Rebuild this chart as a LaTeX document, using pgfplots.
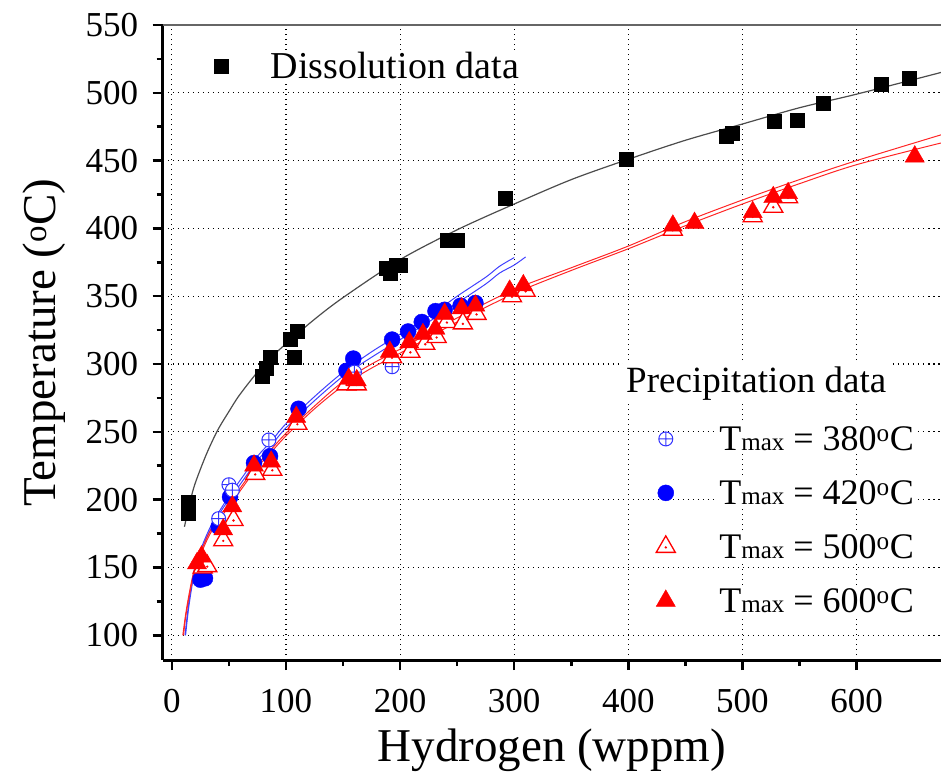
\documentclass[border=0pt]{standalone}
\usepackage{fontspec}
\setmainfont{Liberation Serif}
\usepackage{pgfplots}
\pgfplotsset{compat=1.18}

% hollow triangle with a small dot in the middle (Origin style)
\pgfdeclareplotmark{tridot}{%
  \pgfpathmoveto{\pgfqpoint{0pt}{\pgfplotmarksize}}%
  \pgfpathlineto{\pgfqpointpolar{-30}{\pgfplotmarksize}}%
  \pgfpathlineto{\pgfqpointpolar{210}{\pgfplotmarksize}}%
  \pgfpathclose
  \pgfusepathqfillstroke
  \pgfpathcircle{\pgfqpoint{0pt}{-0.05\pgfplotmarksize}}{0.4pt}%
  \pgfusepathqstroke
}

\newcommand{\tmax}[1]{T{\fontsize{25}{25}\selectfont max} = #1\textsuperscript{o}C}

\begin{document}
\begin{tikzpicture}
\begin{axis}[
  name=ax,
  scale only axis,
  width=778pt, height=635pt,
  xmin=-8, xmax=674, ymin=81.6, ymax=550,
  axis lines*=left,
  axis line style={-, line width=3pt},
  xtick={0,100,...,600}, ytick={100,150,...,550},
  minor x tick num=1, minor y tick num=1,
  tick align=outside,
  major tick length=10pt, minor tick length=6pt,
  tick style={black, line width=2.5pt},
  grid=major,
  major grid style={black, line width=1.2pt, dash pattern=on 1.5pt off 3.5pt},
  /pgf/number format/assume math mode=true,
  tick label style={font=\fontsize{35}{35}\selectfont},
  yticklabel style={xshift=-11pt},
  xticklabel style={yshift=-15pt},
  label style={font=\fontsize{47}{50}\selectfont},
  xlabel={Hydrogen (wppm)},
  ylabel={Temperature (\textsuperscript{o}C)},
  xlabel style={at={(axis description cs:0.5,-0.1600)}, anchor=base},
  ylabel style={at={(axis description cs:-0.1375,0.5)}, anchor=base, rotate=0},
  clip=false,
  legend cell align=left,
  legend style={at={(0.63,0.375)}, anchor=north west, draw=none, fill=none,
    row sep=24.5pt, column sep=42pt,
    font=\fontsize{36}{38}\selectfont, nodes={fill=white}},
]
% fitted curves
\addplot[forget plot, black!70, line width=1.2pt, smooth] coordinates {
 (11,180) (15,195) (20,211) (30,233) (40,251) (50,265) (60,278) (80,299)
 (100,315) (125,333) (150,349) (200,377) (250,399) (300,418) (350,436)
 (400,451) (450,465) (500,477) (550,489) (600,499) (674,515)};
\addplot[forget plot, blue!75, line width=1pt, smooth] coordinates {
 (11.5,100) (15,125) (20,150) (27,167) (35,182) (45,196) (52,205) (63,218)
 (75,232) (87,243) (100,256) (125,276) (150,294) (175,309) (200,322)
 (225,335) (250,350) (275,364) (287,372) (300,378.5)};
\addplot[forget plot, blue!75, line width=1pt, smooth] coordinates {
 (12,100) (15,122) (20,147) (27,165) (35,180) (45,194) (52,202) (63,215)
 (75,229) (87,240) (100,253) (125,273) (150,291) (175,305) (200,318)
 (225,331) (250,345) (275,359) (287,367) (300,373) (310,379)};
\addplot[forget plot, red!85, line width=1pt, smooth] coordinates {
 (9.6,100) (12,115) (15,130) (19,146) (25,161) (33,176) (42,188) (51,198)
 (62,211) (74,225) (87,237) (100,249) (125,269) (150,287) (175,300)
 (200,311) (250,334) (300,355) (350,371) (400,387) (450,405) (500,421)
 (550,436) (600,450) (674,469)};
\addplot[forget plot, red!85, line width=1pt, smooth] coordinates {
 (10.2,100) (12,113) (15,128) (19,144) (25,159) (33,174) (42,186) (51,196)
 (62,209) (74,223) (87,235) (100,247) (125,267) (150,284) (175,297)
 (200,308) (250,331) (300,352) (350,369) (400,385) (450,402) (500,418)
 (550,433) (600,447) (674,463)};
% dissolution data
\addplot[forget plot, only marks, mark=square*, mark size=7pt, black] coordinates {
 (14,198) (14,190) (79,291) (83,297) (86,305) (104,318) (107,305) (110,324)
 (188,371) (191,367) (197,373) (200,373) (241,391) (250,391) (292,422)
 (398,451) (486,468) (491,470) (528,479) (548,480) (571,492) (622,506) (646,511)};
% precipitation data
\addplot[forget plot, only marks, mark=*, mark size=8pt, blue] coordinates {
 (25,141) (29,142) (41,180) (51,202) (72,227) (86,232) (111,267) (153,295)
 (159,304) (193,318) (207,324) (219,331) (231,339) (239,340) (253,343) (266,345)};
\addplot[forget plot, only marks, mark=oplus*, mark size=7pt, blue!80,
  mark options={fill=white, line width=1pt}] coordinates {
 (41,186) (50,211) (53,207) (85,244) (160,294) (193,298)};
\addplot[forget plot, only marks, mark=tridot, mark size=11pt, red,
  mark options={fill=white, line width=1.3pt}] coordinates {
 (27,150) (31,151) (45,170) (54,185) (73,219) (88,222) (110,256) (153,285)
 (162,285) (193,305) (209,309) (222,315) (232,320) (241,331) (255,330)
 (267,337) (298,350) (310,354) (439,399) (509,409) (527,416) (540,423)};
\addplot[forget plot, only marks, mark=triangle*, mark size=11pt, red] coordinates {
 (22,153) (26,158) (45,178) (53,195) (72,225) (87,228) (109,261) (155,289)
 (162,288) (191,309) (208,316) (220,322) (231,326) (239,337) (254,341)
 (266,343) (296,354) (308,358) (439,402) (458,404) (509,412) (527,423)
 (540,426) (651,453)};

\addlegendimage{only marks, mark=oplus*, mark size=7pt, blue!80, mark options={fill=white, line width=1pt}}
\addlegendentry{\tmax{380}}
\addlegendimage{only marks, mark=*, mark size=8pt, blue}
\addlegendentry{\tmax{420}}
\addlegendimage{only marks, mark=tridot, mark size=11pt, red, mark options={fill=white, line width=1.3pt}}
\addlegendentry{\tmax{500}}
\addlegendimage{only marks, mark=triangle*, mark size=11pt, red}
\addlegendentry{\tmax{600}}

\node[fill=white, inner sep=3pt, font=\fontsize{37}{39}\selectfont]
  at (rel axis cs:0.7626,0.4362) {Precipitation data};
\draw[black!60, line width=1.2pt] (rel axis cs:0,1) -- (rel axis cs:1,1);
\coordinate (bl) at (rel axis cs:0,0);
\coordinate (tr) at (rel axis cs:1,1);
\end{axis}

\begin{axis}[
  scale only axis,
  width=778pt, height=635pt,
  xmin=-8, xmax=674, ymin=81.6, ymax=550,
  hide axis,
  legend style={at={(0.0614,0.935)}, anchor=west, draw=none, fill=none,
    column sep=41pt,
    font=\fontsize{38}{40}\selectfont, nodes={fill=white}},
]
\addplot[forget plot, draw=none] coordinates {(0,100)};
\addlegendimage{only marks, mark=square*, mark size=7pt, black}
\addlegendentry{Dissolution data}
\end{axis}

\pgfresetboundingbox
\path[use as bounding box] ([shift={(-162.7pt,-115pt)}]bl) rectangle ([shift={(0pt,25pt)}]tr);
\end{tikzpicture}
\end{document}
